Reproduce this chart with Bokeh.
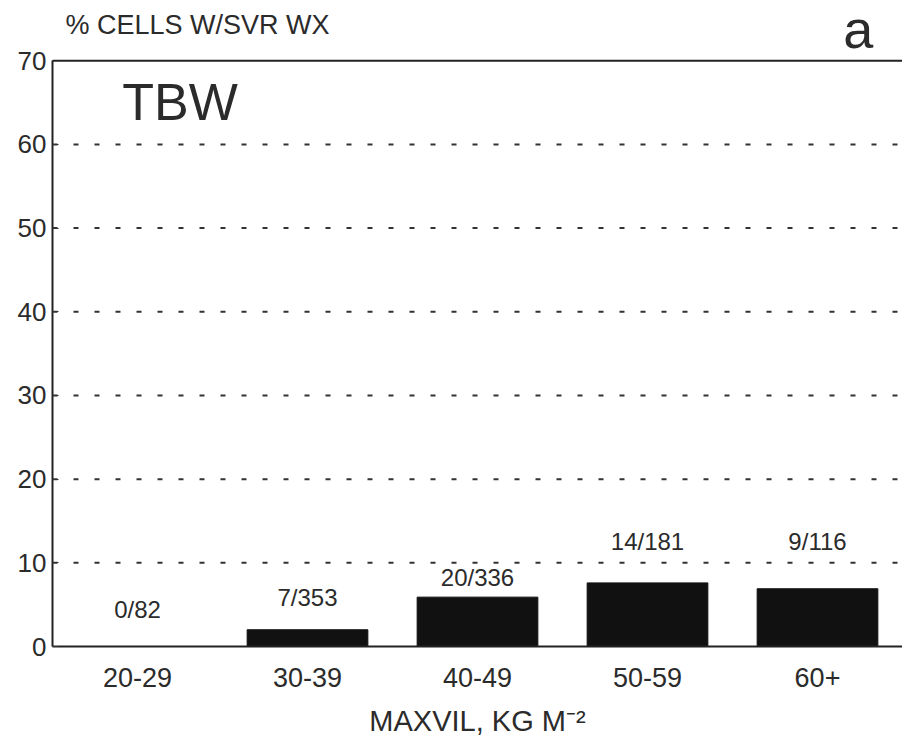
from bokeh.plotting import figure
from bokeh.models import FactorRange, Label, ColumnDataSource, FixedTicker, Span
from bokeh.core.properties import value
from bokeh.embed import file_html
from bokeh.resources import INLINE

categories = ["20-29", "30-39", "40-49", "50-59", "60+"]
pct_values = [0.0, 2.0, 5.9, 7.6, 6.9]
count_labels = ["0/82", "7/353", "20/336", "14/181", "9/116"]
label_heights = [2.75, 4.2, 6.6, 10.9, 10.9]
y_ticks = [0, 10, 20, 30, 40, 50, 60, 70]
grid_levels = [10, 20, 30, 40, 50, 60]
y_max = 70

FONT = "Liberation Sans"
TXT = "#2b2b2b"

p = figure(width=902, height=746, x_range=FactorRange(factors=categories, range_padding=0),
           y_range=(0, 77.2), output_backend="svg", toolbar_location=None,
           min_border_left=52, min_border_top=0, min_border_bottom=100, min_border_right=0)

src = ColumnDataSource(dict(x=categories, top=pct_values, lab=count_labels, ly=label_heights))
p.vbar(x="x", top="top", width=0.71, source=src, fill_color="#111111", line_color="#111111")
p.text(x="x", y="ly", text="lab", source=src, text_align="center", text_baseline="bottom",
       text_font=value(FONT), text_font_size="24px", text_color=TXT)

p.xgrid.visible = False
p.ygrid.visible = False
for g in grid_levels:
    p.add_layout(Span(location=g, dimension="width", line_color="#333333", line_width=2,
                      line_dash="5 16"))
p.add_layout(Span(location=y_max, dimension="width", line_color="#222222", line_width=2))

p.outline_line_color = None

p.yaxis.ticker = FixedTicker(ticks=y_ticks)
p.yaxis.bounds = (0, y_max)
p.yaxis.axis_line_color = "#222222"
p.yaxis.axis_line_width = 2
p.yaxis.major_tick_in = 6
p.yaxis.major_tick_out = 0
p.yaxis.major_tick_line_color = "#333333"
p.yaxis.minor_tick_line_color = None
p.yaxis.major_label_text_font = FONT
p.yaxis.major_label_text_font_size = "26px"
p.yaxis.major_label_text_color = TXT
p.yaxis.major_label_standoff = 6

p.xaxis.axis_line_color = "#222222"
p.xaxis.axis_line_width = 2
p.xaxis.major_tick_line_color = None
p.xaxis.minor_tick_line_color = None
p.xaxis.major_label_text_font = FONT
p.xaxis.major_label_text_font_size = "27px"
p.xaxis.major_label_text_color = TXT
p.xaxis.major_label_standoff = 15
p.xaxis.axis_label = "MAXVIL, KG M\u207b\u00b2"
p.xaxis.axis_label_text_font = FONT
p.xaxis.axis_label_text_font_size = "29px"
p.xaxis.axis_label_text_font_style = "normal"
p.xaxis.axis_label_text_color = TXT
p.xaxis.axis_label_standoff = 15

p.add_layout(Label(x=0.076, y=72.5, text="% CELLS W/SVR WX", text_font=FONT,
                   text_font_size="27px", text_color=TXT, text_baseline="bottom"))
p.add_layout(Label(x=4.74, y=70.25, text="a", text_font=FONT, text_align="center",
                   text_font_size="54px", text_color=TXT, text_baseline="bottom"))
p.add_layout(Label(x=0.41, y=61.55, text="TBW", text_font=FONT,
                   text_font_size="52px", text_color=TXT, text_baseline="bottom"))

open("out.html", "w").write(file_html(p, INLINE))
